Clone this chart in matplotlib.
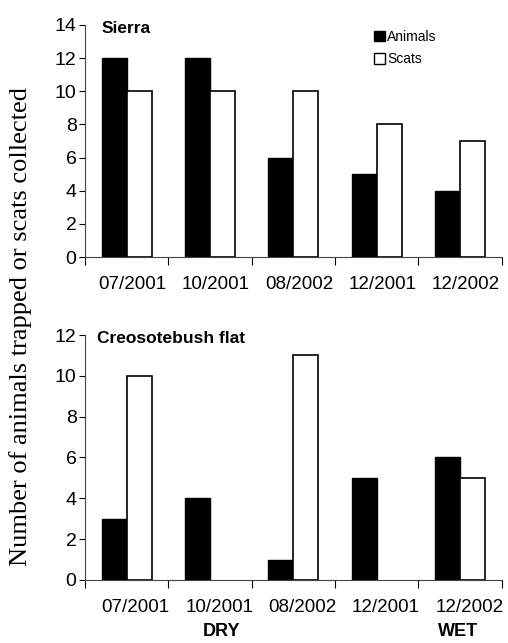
import matplotlib
matplotlib.use("Agg")
import matplotlib.pyplot as plt
import numpy as np
from matplotlib.patches import Patch

plt.rcParams['font.family'] = ['Liberation Sans', 'DejaVu Sans']

dates = ["07/2001", "10/2001", "08/2002", "12/2001", "12/2002"]
sierra_animals = [12, 12, 6, 5, 4]
sierra_scats = [10, 10, 10, 8, 7]
creosote_animals = [3, 4, 1, 5, 6]
creosote_scats = [10, 0, 11, 0, 5]


def draw_panel(ax, animals, scats, title, ymax, lab_shift, title_x):
    x = np.arange(len(dates))
    w = 0.3
    ax.bar(x - w / 2, animals, w, color="black", edgecolor="black", linewidth=1)
    # zero-height scats bars are not drawn (no visible outline)
    sc = np.array(scats, dtype=float)
    mask = sc > 0
    ax.bar(x[mask] + w / 2, sc[mask], w, color="white", edgecolor="black", linewidth=1.2)
    ax.set_xlim(-0.5, len(dates) - 0.5)
    ax.set_ylim(0, ymax)
    ax.set_yticks(np.arange(0, ymax + 1, 2))
    ax.set_xticks(np.arange(len(dates) + 1) - 0.5)
    ax.set_xticklabels([])
    ax.set_xticks(x + lab_shift, minor=True)
    ax.set_xticklabels(dates, minor=True)
    ax.tick_params(axis="x", which="minor", length=0, pad=14, labelsize=13.5)
    ax.tick_params(axis="x", which="major", direction="out", length=6, width=0.8)
    ax.tick_params(axis="y", direction="out", length=4, width=0.8, labelsize=14, pad=2)
    for s in ["top", "right"]:
        ax.spines[s].set_visible(False)
    for s in ["left", "bottom"]:
        ax.spines[s].set_linewidth(0.8)
        ax.spines[s].set_color("#444444")
    ax.text(title_x, 0.985, title, transform=ax.transAxes, fontsize=12.5,
            fontweight="bold", va="center", ha="left")


fig = plt.figure(figsize=(5.08, 6.43), dpi=100)
ax1 = fig.add_axes([0.167, 0.6003, 0.821, 0.361])
ax2 = fig.add_axes([0.167, 0.098, 0.821, 0.381])

draw_panel(ax1, sierra_animals, sierra_scats, "Sierra", 14, 0.07, 0.04)
draw_panel(ax2, creosote_animals, creosote_scats, "Creosotebush flat", 12, 0.11, 0.03)

handles = [Patch(facecolor="black", edgecolor="black"),
           Patch(facecolor="white", edgecolor="black")]
ax1.legend(handles, ["Animals", "Scats"], loc="upper left",
           bbox_to_anchor=(0.67, 1.02), frameon=False, fontsize=10,
           handlelength=0.8, handleheight=0.8, handletextpad=0.15,
           labelspacing=0.6, borderpad=0.2)

fig.text(0.04, 0.493, "Number of animals trapped or scats collected",
         rotation=90, va="center", ha="center", fontsize=19,
         family=["Liberation Serif", "DejaVu Serif"])
fig.text(0.437, 0.004, "DRY", ha="center", va="bottom", fontsize=13, fontweight="bold")
fig.text(0.902, 0.004, "WET", ha="center", va="bottom", fontsize=13, fontweight="bold")

fig.savefig("out.png", dpi=100)
